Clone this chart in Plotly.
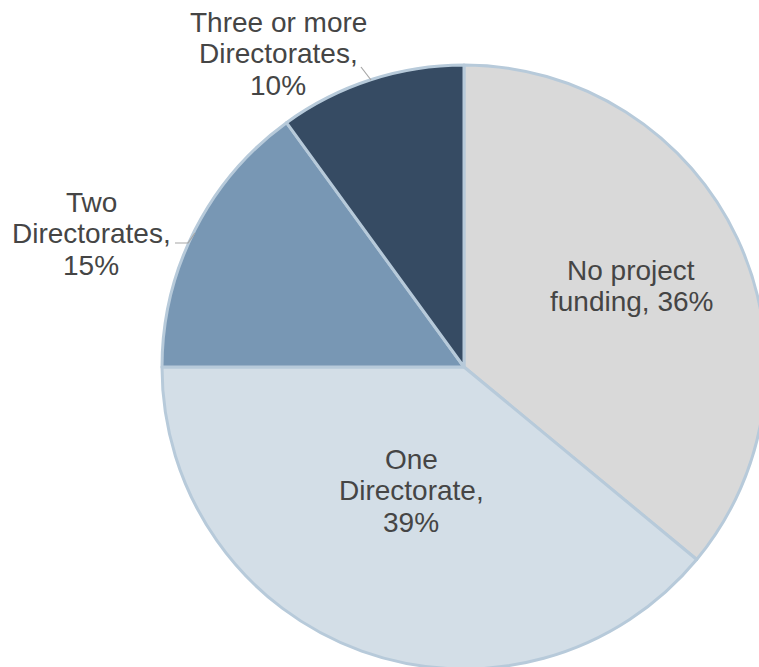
import plotly.graph_objects as go

# ---- data ----
categories = ["No project funding", "One Directorate", "Two Directorates", "Three or more Directorates"]
values = [36, 39, 15, 10]
colors = ["#D9D9D9", "#D3DEE7", "#7897B4", "#364B63"]
label_lines = [
    ["No project", "funding, 36%"],
    ["One", "Directorate,", "39%"],
    ["Two", "Directorates,", "15%"],
    ["Three or more", "Directorates,", "10%"],
]

# ---- layout geometry (pixels) ----
W, H = 780, 680
cx, cy, R = 464, 367, 302
label_pos = [  # (center x, first baseline)
    (631, 280),
    (411, 469),
    (91, 212),
    (278, 32),
]
line_gap = 31.5
FS = 28

fig = go.Figure()
fig.add_trace(go.Pie(
    labels=categories, values=values, sort=False, direction="clockwise", rotation=0,
    marker=dict(colors=colors, line=dict(color="#B7CADA", width=3)),
    textinfo="none", hoverinfo="label+percent", showlegend=False,
    domain=dict(x=[(cx - R) / W, (cx + R) / W], y=[(H - cy - R) / H, (H - cy + R) / H]),
))

annotations = []
for lines, (x0, b0) in zip(label_lines, label_pos):
    for i, t in enumerate(lines):
        yb = b0 + i * line_gap
        annotations.append(dict(
            x=x0, y=yb - 0.3465 * FS, xref="x", yref="y", text=t, showarrow=False,
            xanchor="center", yanchor="middle",
            font=dict(family="Liberation Sans, Arial, sans-serif", size=FS, color="#454545"),
        ))

shapes = [
    dict(type="path", xref="x", yref="y", path="M 175 243 L 188 243 L 195 233",
         line=dict(color="#A6A6A6", width=1.2)),
    dict(type="path", xref="x", yref="y", path="M 361 67 L 371 80",
         line=dict(color="#A6A6A6", width=1.2)),
]

fig.update_layout(
    width=W, height=H, margin=dict(l=0, r=0, t=0, b=0),
    paper_bgcolor="white", plot_bgcolor="rgba(0,0,0,0)",
    xaxis=dict(range=[0, W], visible=False, domain=[0, 1], fixedrange=True),
    yaxis=dict(range=[H, 0], visible=False, domain=[0, 1], fixedrange=True),
    annotations=annotations, shapes=shapes,
)

fig.write_html(
    "out.html",
    config={"displayModeBar": False},
    post_script="document.body.style.margin='0';document.body.style.overflow='hidden';document.documentElement.style.overflow='hidden';",
)
